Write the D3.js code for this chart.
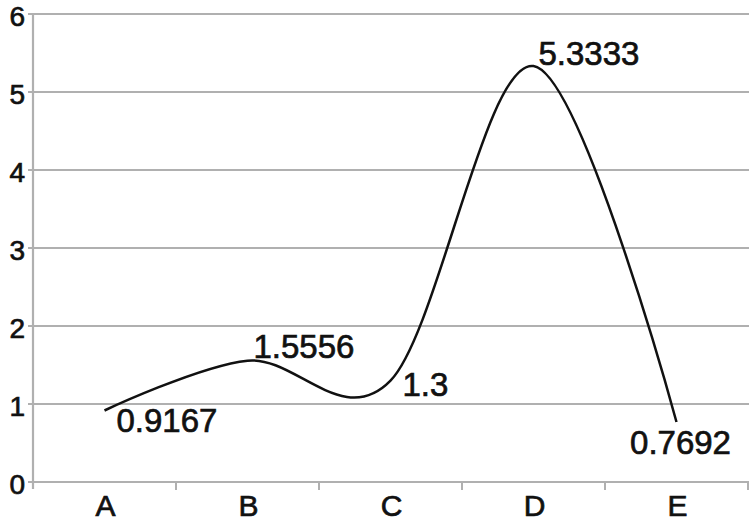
<!DOCTYPE html>
<html>
<head>
<meta charset="utf-8">
<script src="https://cdn.jsdelivr.net/npm/d3@7"></script>
<style>
  body { margin: 0; background: #fff; }
  svg { display: block; font-family: "Liberation Sans", Arial, sans-serif; }
  svg text { fill: #111; stroke: #111; stroke-width: 0.7px; }
</style>
</head>
<body>
<div id="app"></div>
<script>
const categories = ["A", "B", "C", "D", "E"];
const values = [0.9167, 1.5556, 1.3, 5.3333, 0.7692];
const valueLabels = ["0.9167", "1.5556", "1.3", "5.3333", "0.7692"];
const yTicks = [0, 1, 2, 3, 4, 5, 6];

// where each data label sits relative to its point
const labelPlace = [
  {anchor: "start", dx: 12, dy: 22},
  {anchor: "start", dx: 6, dy: -3},
  {anchor: "start", dx: 12, dy: 15},
  {anchor: "start", dx: 5, dy: -1},
  {anchor: "middle", dx: 4, dy: 32}
];

const width = 749, height = 521;
const margin = {top: 14, right: 0, bottom: 39, left: 33};
const gridColor = "#b0b0b0";

const svg = d3.select("#app").append("svg")
    .attr("width", width)
    .attr("height", height);

const x = d3.scaleBand()
    .domain(categories)
    .range([margin.left, width - margin.right - 1]);

const y = d3.scaleLinear()
    .domain([0, 6])
    .range([height - margin.bottom, margin.top]);

const cx = d => x(d) + x.bandwidth() / 2;

// horizontal grid
svg.append("g")
  .selectAll("line")
  .data(yTicks)
  .join("line")
    .attr("x1", margin.left - 5)
    .attr("x2", width)
    .attr("y1", d => y(d))
    .attr("y2", d => y(d))
    .attr("stroke", gridColor)
    .attr("stroke-width", 2.2);

// y axis line
svg.append("line")
    .attr("x1", margin.left).attr("x2", margin.left)
    .attr("y1", y(6)).attr("y2", y(0) + 7)
    .attr("stroke", gridColor)
    .attr("stroke-width", 2.2);

// x tick marks at category boundaries
const bounds = categories.slice(1).map(c => x(c)).concat([x.range()[1]]);
svg.append("g")
  .selectAll("line")
  .data(bounds)
  .join("line")
    .attr("x1", d => d).attr("x2", d => d)
    .attr("y1", y(0)).attr("y2", y(0) + 8)
    .attr("stroke", gridColor)
    .attr("stroke-width", 2);

// y labels
svg.append("g")
  .selectAll("text")
  .data(yTicks)
  .join("text")
    .attr("x", 25)
    .attr("y", d => y(d) + 2)
    .attr("dy", "0.35em")
    .attr("text-anchor", "end")
    .attr("font-size", 28)
    .text(d => d);

// x labels
svg.append("g")
  .selectAll("text")
  .data(categories)
  .join("text")
    .attr("x", d => cx(d) + 1)
    .attr("y", y(0) + 34)
    .attr("text-anchor", "middle")
    .attr("font-size", 30)
    .text(d => d);

// smoothed line
const line = d3.line()
    .x((d, i) => cx(categories[i]))
    .y(d => y(d))
    .curve(d3.curveCardinal.tension(0));

svg.append("path")
    .datum(values)
    .attr("fill", "none")
    .attr("stroke", "#111")
    .attr("stroke-width", 2.5)
    .attr("d", line);

// data labels
svg.append("g")
  .selectAll("text")
  .data(values)
  .join("text")
    .attr("x", (d, i) => cx(categories[i]) + labelPlace[i].dx)
    .attr("y", (d, i) => y(d) + labelPlace[i].dy)
    .attr("text-anchor", (d, i) => labelPlace[i].anchor)
    .attr("font-size", 33)
    .text((d, i) => valueLabels[i]);
</script>
</body>
</html>
